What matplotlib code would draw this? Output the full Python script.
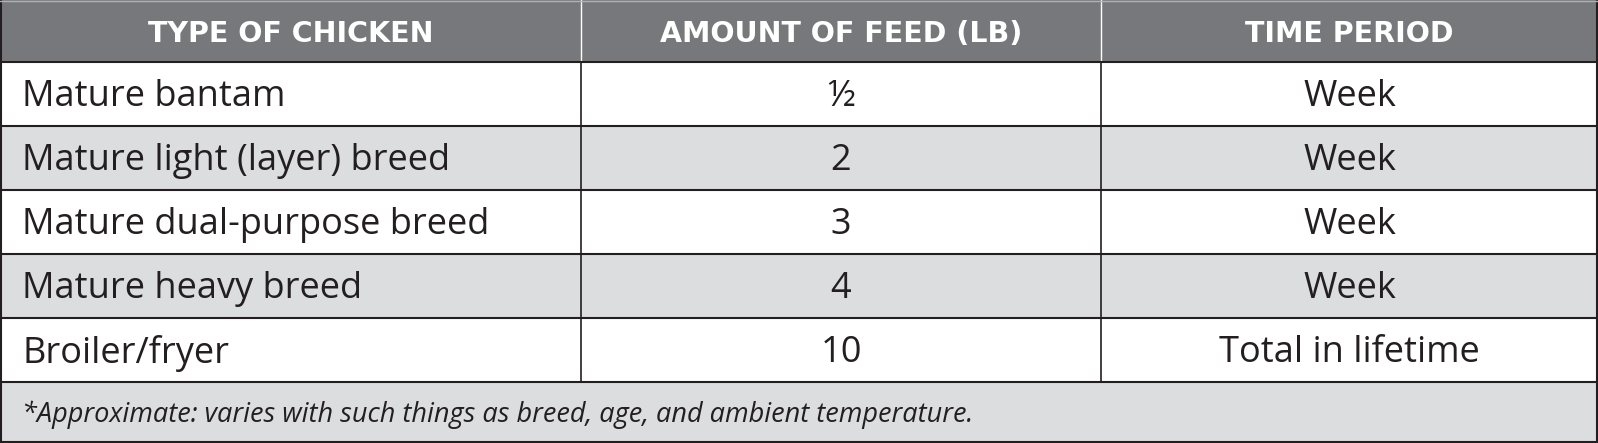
import matplotlib.pyplot as plt
from matplotlib.patches import Rectangle

headers = ['TYPE OF CHICKEN', 'AMOUNT OF FEED (LB)', 'TIME PERIOD']
chicken_types = ['Mature bantam', 'Mature light (layer) breed', 'Mature dual-purpose breed',
                 'Mature heavy breed', 'Broiler/fryer']
feed_amounts = ['\u00bd', '2', '3', '4', '10']
time_periods = ['Week', 'Week', 'Week', 'Week', 'Total in lifetime']
footnote = '*Approximate: varies with such things as breed, age, and ambient temperature.'

W, H = 1598, 443
col_edges = [0, 581, 1101, W]
header_h = 62
row_h = 64
header_color = '#77787b'
band_color = '#dcdddf'
line_color = '#231f20'
text_color = '#231f20'

fig = plt.figure(figsize=(W / 100, H / 100), dpi=100)
ax = fig.add_axes([0, 0, 1, 1])
ax.set_xlim(0, W)
ax.set_ylim(H, 0)
ax.axis('off')

# header
ax.add_patch(Rectangle((0, 0), W, header_h, facecolor=header_color, edgecolor='none'))
for i, h in enumerate(headers):
    xc = (col_edges[i] + col_edges[i + 1]) / 2
    ax.text(xc, header_h / 2 + 3, h, ha='center', va='center', color='white',
            fontsize=20.5, family='DejaVu Sans', fontweight='bold')
for x in col_edges[1:-1]:
    ax.plot([x, x], [0, header_h], color='white', lw=1)

# body rows
n = len(chicken_types)
for r in range(n):
    y0 = header_h + r * row_h
    fc = 'white' if r % 2 == 0 else band_color
    ax.add_patch(Rectangle((0, y0), W, row_h, facecolor=fc, edgecolor='none'))
    yc = y0 + row_h / 2 + 3
    ax.text(22, yc, chicken_types[r], ha='left', va='center', color=text_color,
            fontsize=26, family='Open Sans')
    ax.text((col_edges[1] + col_edges[2]) / 2, yc, feed_amounts[r], ha='center', va='center',
            color=text_color, fontsize=26, family='Open Sans')
    ax.text((col_edges[2] + col_edges[3]) / 2, yc, time_periods[r], ha='center', va='center',
            color=text_color, fontsize=26, family='Open Sans')

body_bottom = header_h + n * row_h

# footnote row
ax.add_patch(Rectangle((0, body_bottom), W, H - body_bottom, facecolor=band_color, edgecolor='none'))
ax.text(22, (body_bottom + H) / 2 + 2, footnote, ha='left', va='center', color=text_color,
        fontsize=19.5, family='Open Sans', style='italic')

# grid lines
for r in range(n + 1):
    y = header_h + r * row_h
    ax.plot([0, W], [y, y], color=line_color, lw=1.5)
for x in col_edges[1:-1]:
    ax.plot([x, x], [header_h, body_bottom], color=line_color, lw=1.2)
ax.plot([0.8, 0.8], [0, H], color=line_color, lw=1.5)
ax.plot([W - 0.8, W - 0.8], [0, H], color=line_color, lw=1.5)
ax.plot([0, W], [H - 0.8, H - 0.8], color=line_color, lw=1.5)
ax.plot([0, W], [0.5, 0.5], color='#b0b1b3', lw=1)

fig.savefig('out.png', dpi=100)
